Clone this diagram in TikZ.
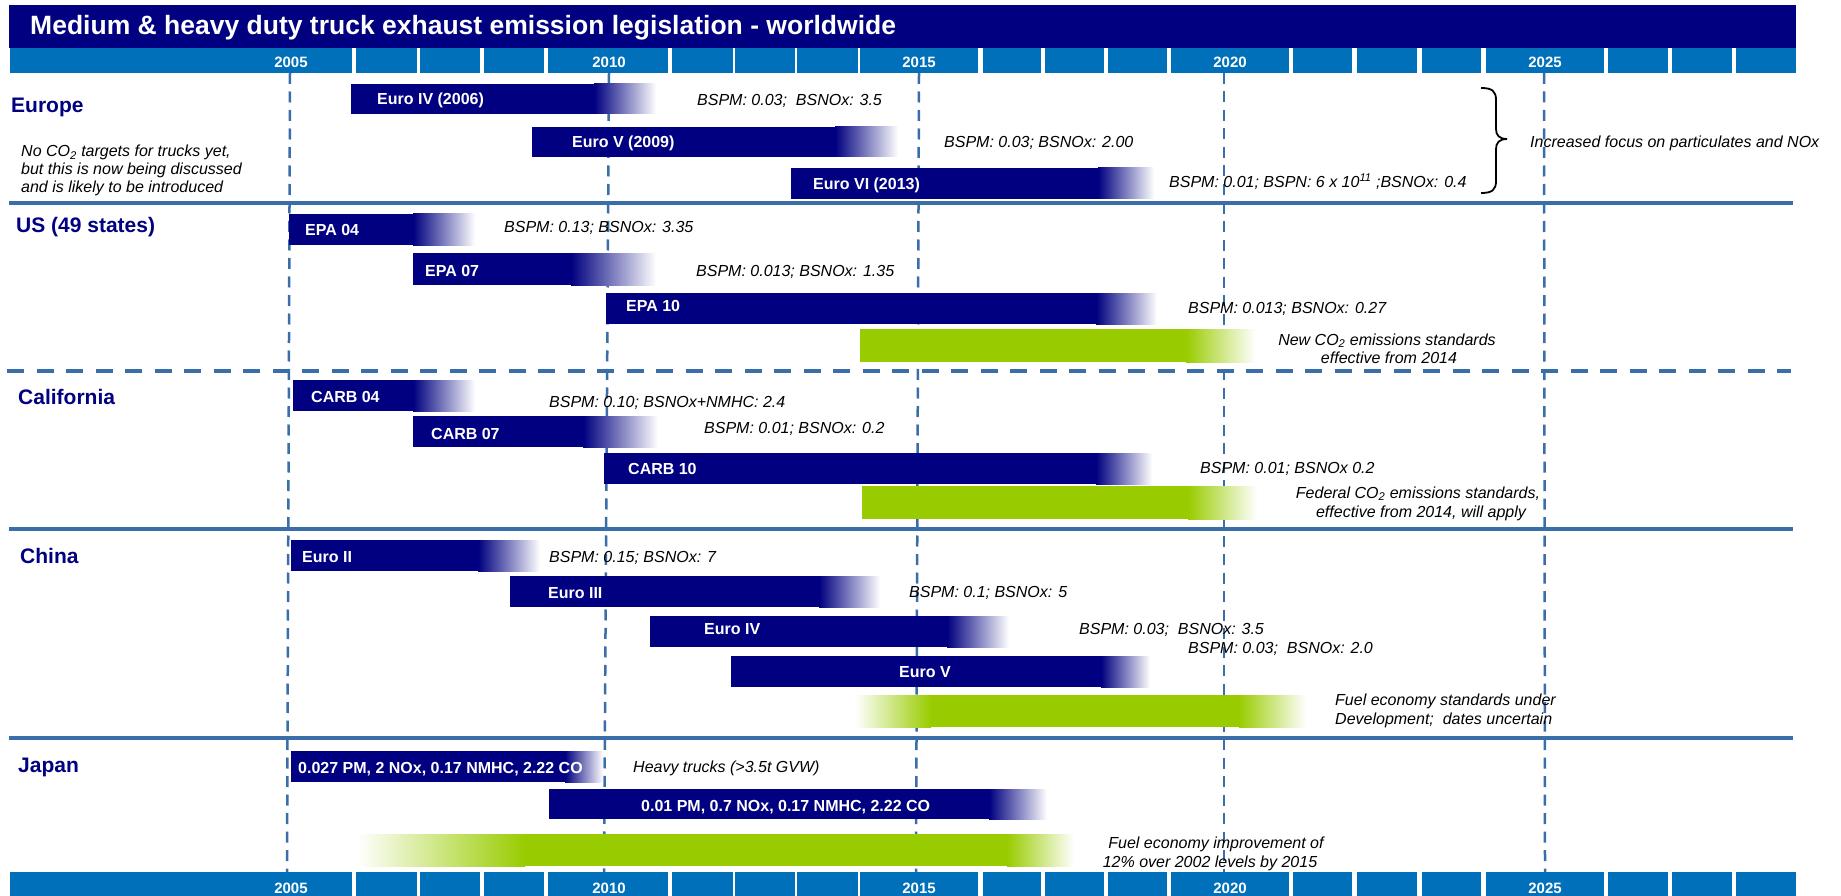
\documentclass[tikz,border=0pt]{standalone}
\usepackage{fontspec}
\setmainfont{Liberation Sans}
\definecolor{navyc}{RGB}{0,0,128}
\definecolor{yearblue}{RGB}{0,112,186}
\definecolor{sepblue}{RGB}{58,110,168}
\definecolor{limec}{RGB}{153,204,0}
\newcommand{\nbar}[5]{%
  \fill[navyc] (#1,#4) rectangle (#2,#5);
  \shade[left color=navyc,right color=white] (#2,#4) rectangle (#3,#5);}
\newcommand{\gbarboth}[6]{%
  \shade[left color=white,right color=limec] (#1,#5) rectangle (#2,#6);
  \fill[limec] (#2,#5) rectangle (#3,#6);
  \shade[left color=limec,right color=white] (#3,#5) rectangle (#4,#6);}
\newcommand{\gbarright}[5]{%
  \fill[limec] (#1,#4) rectangle (#2,#5);
  \shade[left color=limec,right color=white] (#2,#4) rectangle (#3,#5);}
\tikzset{
  yearlbl/.style={text=white, font=\fontsize{15}{18}\selectfont\bfseries, inner sep=0pt, anchor=base},
  region/.style={text=navyc, font=\fontsize{21}{25}\selectfont\bfseries, anchor=base west, inner sep=0pt},
  barlbl/.style={text=white, font=\fontsize{16}{19}\selectfont\bfseries, anchor=base west, inner sep=0pt},
  note/.style={text=black, font=\fontsize{16}{18}\selectfont\itshape, anchor=base west, inner sep=0pt},
  notec/.style={note, anchor=base},
  sepline/.style={draw=sepblue, line width=4pt},
  sepdash/.style={draw=sepblue, line width=4pt, dash pattern=on 17pt off 12.5pt},
  vdash/.style={draw=sepblue, line width=2.5pt, dash pattern=on 11pt off 7.5pt},
}
\begin{document}
\begin{tikzpicture}[x=1pt,y=-1pt]
\useasboundingbox (0,0) rectangle (1841,896);
\fill[white] (0,0) rectangle (1841,896);

% title bar
\fill[navyc] (9,5) rectangle (1796,48);
\node[text=white, font=\fontsize{26.5}{30}\selectfont\bfseries, anchor=base west, inner sep=0pt] (title) at (30,34.5)
  {Medium \& heavy duty truck exhaust emission legislation - worldwide};

% year bars
\foreach \a/\b in {10/352,356/417,420/480,484/544,548/668,672/733,735/795,797/858,860/978,983/1041,1045/1104,1108/1167,1171/1289,1293/1352,1357/1417,1422/1481,1486/1604,1608/1668,1672/1732,1736/1796}{
  \fill[yearblue] (\a,48) rectangle (\b,73);
  \fill[yearblue] (\a,872) rectangle (\b,896);
}
\foreach \yr/\x in {2005/291,2010/609,2015/919,2020/1230,2025/1545}{
  \node[yearlbl] (top\yr) at (\x,68) {\yr};
  \node[yearlbl] (bot\yr) at (\x,893) {\yr};
}

% vertical dashed year lines
\draw[vdash] (290,73) -- (287,872);
\draw[vdash] (609,73) -- (604,872);
\draw[vdash] (919,73) -- (916,872);
\draw[vdash] (1224,73) -- (1224,872);
\draw[vdash] (1544,73) -- (1545,872);

% separators
\draw[sepline] (9,203) -- (1793,203);
\draw[sepdash] (7,371) -- (1791,371);
\draw[sepline] (9,529) -- (1793,529);
\draw[sepline] (9,738) -- (1793,738);

% ---------------- Europe
\node[region] (europe) at (11,113) {Europe};
\node[note] (eun1) at (21,157) {No CO\textsubscript{2} targets for trucks yet,};
\node[note] (eun2) at (21,175) {but this is now being discussed};
\node[note] (eun3) at (21,193) {and is likely to be introduced};
\nbar{351}{594}{656}{84}{114}
\node[barlbl] (euro4) at (377,105) {Euro IV (2006)};
\nbar{532}{835}{898}{127}{157}
\node[barlbl] (euro5) at (572,148) {Euro V (2009)};
\nbar{791}{1098}{1154}{168}{199}
\node[barlbl] (euro6) at (813,189.5) {Euro VI (2013)};
\node[note] (eu4n) at (697,106) {BSPM: 0.03;\ \ BSNOx: 3.5};
\node[note] (eu5n) at (944,148) {BSPM: 0.03; BSNOx: 2.00};
\node[note] (eu6n) at (1169,188) {BSPM: 0.01; BSPN: 6 x 10\textsuperscript{11} ;BSNOx: 0.4};
\draw[line width=1.8pt] (1481,88) .. controls (1492,88) and (1496,91) .. (1496,100) -- (1496,129)
  .. controls (1496,135) and (1499,139) .. (1507,139)
  .. controls (1499,139) and (1496,143) .. (1496,149) -- (1496,181)
  .. controls (1496,190) and (1492,193) .. (1481,193);
\node[note] (focus) at (1530,148) {Increased focus on particulates and NOx};

% ---------------- US
\node[region] (us) at (16,232) {US (49 states)};
\nbar{289}{413}{475}{214}{245}
\node[barlbl] (epa04) at (305,236) {EPA 04};
\node[note] (epa04n) at (504,233) {BSPM: 0.13; BSNOx: 3.35};
\nbar{413}{571}{656}{253}{285}
\node[barlbl] (epa07) at (425,276) {EPA 07};
\node[note] (epa07n) at (696,276) {BSPM: 0.013; BSNOx: 1.35};
\nbar{606}{1096}{1157}{293}{324}
\node[barlbl] (epa10) at (626,311) {EPA 10};
\node[note] (epa10n) at (1188,313) {BSPM: 0.013; BSNOx: 0.27};
\gbarright{860}{1186}{1255}{329}{362}
\node[notec] (usco1) at (1387,345) {New CO\textsubscript{2} emissions standards};
\node[notec] (usco2) at (1389,363) {effective from 2014};

% ---------------- California
\node[region] (cal) at (18,404) {California};
\nbar{293}{413}{475}{380}{411}
\node[barlbl] (carb04) at (311,402) {CARB 04};
\node[note] (carb04n) at (549,407) {BSPM: 0.10; BSNOx+NMHC: 2.4};
\nbar{413}{583}{658}{416}{447}
\node[barlbl] (carb07) at (431,439) {CARB 07};
\node[note] (carb07n) at (704,433) {BSPM: 0.01; BSNOx: 0.2};
\nbar{604}{1096}{1152}{453}{484}
\node[barlbl] (carb10) at (628,474) {CARB 10};
\node[note] (carb10n) at (1200,473) {BSPM: 0.01; BSNOx 0.2};
\gbarright{862}{1188}{1257}{486}{519}
\node[notec] (calco1) at (1418,498) {Federal CO\textsubscript{2} emissions standards,};
\node[notec] (calco2) at (1421,517) {effective from 2014, will apply};

% ---------------- China
\node[region] (china) at (20,563) {China};
\nbar{291}{478}{540}{540}{571}
\node[barlbl] (cn2) at (302,562) {Euro II};
\node[note] (cn2n) at (549,562) {BSPM: 0.15; BSNOx: 7};
\nbar{510}{819}{880}{576}{607}
\node[barlbl] (cn3) at (548,598) {Euro III};
\node[note] (cn3n) at (909,597) {BSPM: 0.1; BSNOx: 5};
\nbar{650}{947}{1009}{616}{647}
\node[barlbl] (cn4) at (704,634) {Euro IV};
\node[note] (cn4n) at (1079,634) {BSPM: 0.03;\ \ BSNOx: 3.5};
\node[note] (cn5n) at (1188,653) {BSPM: 0.03;\ \ BSNOx: 2.0};
\nbar{731}{1101}{1150}{656}{687}
\node[barlbl] (cn5) at (899,677) {Euro V};
\gbarboth{855}{931}{1239}{1306}{695}{727}
\node[note] (cnf1) at (1335,705) {Fuel economy standards under};
\node[note] (cnf2) at (1335,724) {Development;\ \ dates uncertain};

% ---------------- Japan
\node[region] (japan) at (18,772) {Japan};
\nbar{291}{565}{603}{751}{782}
\node[barlbl] (jp1) at (298,773) {0.027 PM, 2 NOx, 0.17 NMHC, 2.22 CO};
\node[note] (jp1n) at (633,772) {Heavy trucks (>3.5t GVW)};
\nbar{549}{989}{1047}{789}{819}
\node[barlbl] (jp2) at (641,811) {0.01 PM, 0.7 NOx, 0.17 NMHC, 2.22 CO};
\gbarboth{357}{525}{1007}{1074}{834}{866}
\node[notec] (jpf1) at (1216,848) {Fuel economy improvement of};
\node[notec] (jpf2) at (1210,867) {12\% over 2002 levels by 2015};
\end{tikzpicture}
\end{document}
